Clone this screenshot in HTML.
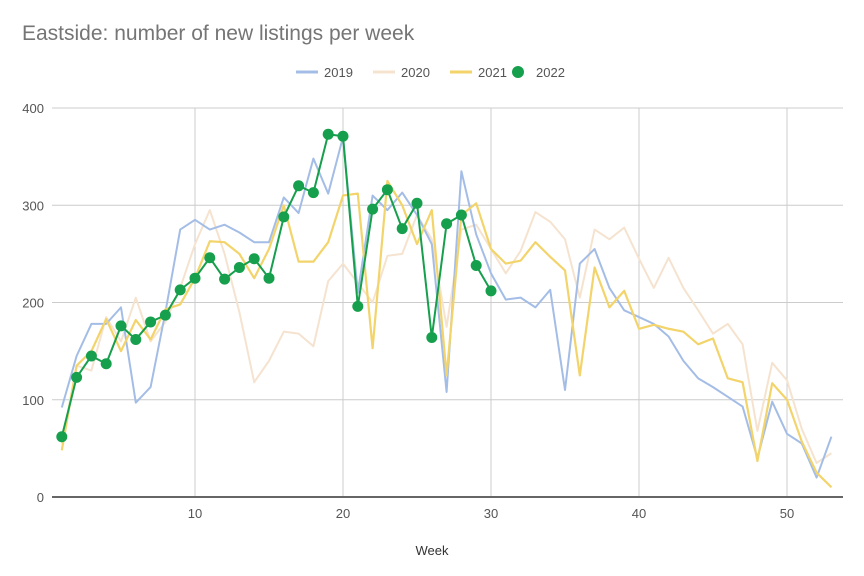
<!DOCTYPE html>
<html><head><meta charset="utf-8"><style>
body{margin:0;background:#fff;}
svg{display:block;font-family:"Liberation Sans",sans-serif;}
</style></head><body>
<svg id="c" width="864" height="576" xmlns="http://www.w3.org/2000/svg">
<rect width="864" height="576" fill="#fff"/>
<text x="22" y="40" font-size="21" fill="#757575">Eastside: number of new listings per week</text>
<g font-size="13" fill="#555">
<line x1="296" y1="72" x2="318" y2="72" stroke="#a4bde6" stroke-width="3"/><text x="324" y="77">2019</text>
<line x1="373" y1="72" x2="395" y2="72" stroke="#f5e3cf" stroke-width="3"/><text x="401" y="77">2020</text>
<line x1="450" y1="72" x2="472" y2="72" stroke="#f3d46b" stroke-width="3"/><text x="478" y="77">2021</text>
<circle cx="518" cy="72" r="6" fill="#169f4c"/><text x="536" y="77">2022</text>
</g>
<g id="grid"></g>
<g id="series"></g>
<text x="432" y="555" font-size="13" fill="#333" text-anchor="middle">Week</text>
</svg>
<script>
const X=w=>61.8+(w-1)*14.8, Y=v=>497-v*0.9725;
const ns="http://www.w3.org/2000/svg";
const g=document.getElementById('grid'), s=document.getElementById('series');
let h='';
for(let v=0;v<=400;v+=100){h+=`<line x1="52" x2="843" y1="${Y(v)}" y2="${Y(v)}" stroke="${v?'#ccc':'#333'}" stroke-width="${v?1:1.5}"/><text x="44" y="${Y(v)+5}" font-size="13" fill="#555" text-anchor="end">${v}</text>`;}
for(let w=10;w<=50;w+=10){h+=`<line x1="${X(w)}" x2="${X(w)}" y1="108" y2="496" stroke="#ccc"/><text x="${X(w)}" y="518" font-size="13" fill="#555" text-anchor="middle">${w}</text>`;}
g.innerHTML=h;
const d19=[92,145,178,178,195,97,113,190,275,285,275,280,272,262,262,308,292,348,312,370,210,310,295,313,290,260,108,335,270,230,203,205,195,213,110,240,255,215,192,185,178,165,140,122,113,103,93,40,98,65,55,20,62];
const d20=[55,135,130,185,160,205,160,180,215,260,295,250,190,118,140,170,168,155,222,240,220,200,248,250,290,265,175,275,280,255,230,253,293,283,265,205,275,265,277,245,215,246,215,192,168,178,157,68,138,120,70,35,45];
const d21=[48,135,150,183,150,182,162,193,198,225,263,262,250,225,255,300,242,242,262,310,312,153,325,300,260,295,125,290,302,255,240,243,262,247,233,125,236,195,212,173,177,173,170,157,163,122,118,37,117,100,57,25,10];
const d22=[62,123,145,137,176,162,180,187,213,225,246,224,236,245,225,288,320,313,373,371,196,296,316,276,302,164,281,290,238,212];
const pl=(d,c,w)=>`<polyline fill="none" stroke="${c}" stroke-width="${w}" stroke-linejoin="round" points="${d.map((v,i)=>X(i+1)+','+Y(v)).join(' ')}"/>`;
let o=pl(d20,'#f5e3cf',2)+pl(d19,'#a4bde6',2)+pl(d21,'#f3d46b',2.2)+pl(d22,'#169f4c',2);
d22.forEach((v,i)=>o+=`<circle cx="${X(i+1)}" cy="${Y(v)}" r="5.5" fill="#169f4c"/>`);
s.innerHTML=o;
</script>
</body></html>
